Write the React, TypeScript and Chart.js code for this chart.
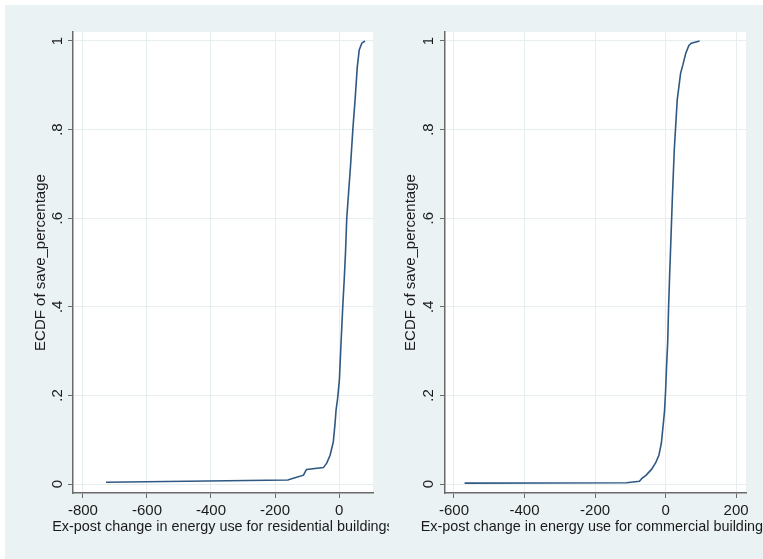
import { useEffect, useRef } from "react";
import { Chart, registerables } from "chart.js";

Chart.register(...registerables);

// Empirical CDF of the savings share, residential buildings
const residentialChange = [
  -728, -160, -143, -111, -104, -101, -49, -38.5, -28, -18, -12.5, -9.4, -5, -2, 1, 5,
  11.5, 16, 20, 24, 29, 36, 43, 50, 57, 63, 71, 81,
];
const residentialEcdf = [
  0.004, 0.009, 0.013, 0.02, 0.03, 0.033, 0.037, 0.047, 0.065, 0.095, 0.137, 0.167, 0.19,
  0.212, 0.235, 0.3, 0.4, 0.46, 0.52, 0.6, 0.65, 0.72, 0.8, 0.867, 0.942, 0.98, 0.995, 1,
];

// Empirical CDF of the savings share, commercial buildings
const commercialChange = [
  -570, -111, -74, -67, -55, -40, -28, -19, -12, -6, -3, 0, 3, 6, 8.5, 11, 15, 19, 24.6,
  33, 42.5, 49, 57, 66, 73, 96.5,
];
const commercialEcdf = [
  0.002, 0.003, 0.006, 0.013, 0.02, 0.033, 0.048, 0.065, 0.092, 0.14, 0.165, 0.21, 0.27,
  0.32, 0.4, 0.46, 0.55, 0.641, 0.754, 0.867, 0.927, 0.946, 0.972, 0.99, 0.995, 1,
];

const ecdfTicks = [0, 0.2, 0.4, 0.6, 0.8, 1];
const residentialTicks = [-800, -600, -400, -200, 0];
const commercialTicks = [-600, -400, -200, 0, 200];

const yAxisTitle = "ECDF of save_percentage";
const residentialTitle = "Ex-post change in energy use for residential buildings";
const commercialTitle = "Ex-post change in energy use for commercial buildings";

const FONT = "'Liberation Sans', Arial, Helvetica, sans-serif";
const REGION = "#eaf2f3";
const GRID = "#e6eef0";
const INK = "#1b1b1b";
const AXIS = "#6b6b6b";
const LINE = "#2f5983";

const fmtProb = (v: number) => (v === 0 ? "0" : v === 1 ? "1" : String(v).replace(/^0/, ""));

// White plot region plus the x-axis title centred under it
const panelPlugin = {
  id: "panelFrame",
  beforeDraw(chart: any) {
    const { ctx, chartArea } = chart;
    ctx.save();
    ctx.fillStyle = "#ffffff";
    ctx.fillRect(chartArea.left, chartArea.top, chartArea.right - chartArea.left, chartArea.bottom - chartArea.top);
    ctx.restore();
  },
  afterDraw(chart: any, _args: any, opts: any) {
    const { ctx, chartArea } = chart;
    ctx.save();
    ctx.font = `14.4px ${FONT}`;
    ctx.fillStyle = INK;
    ctx.textAlign = "center";
    ctx.textBaseline = "middle";
    ctx.fillText(opts.title, (chartArea.left + chartArea.right) / 2, opts.titleY);
    ctx.restore();
  },
};

type PanelProps = {
  xs: number[];
  ys: number[];
  xTicks: number[];
  xMin: number;
  xMax: number;
  xTitle: string;
  width: number;
  axisWidth: number;
  padRight: number;
  yTitlePad: number;
  yTickPad: number;
};

function Panel(p: PanelProps) {
  const ref = useRef<HTMLCanvasElement | null>(null);

  useEffect(() => {
    if (!ref.current) return;
    const points = p.xs.map((x, i) => ({ x, y: p.ys[i] }));
    const chart = new Chart(ref.current, {
      type: "line",
      data: {
        datasets: [
          {
            data: points,
            borderColor: LINE,
            borderWidth: 1.6,
            pointRadius: 0,
            tension: 0,
            fill: false,
          },
        ],
      },
      options: {
        responsive: false,
        animation: false,
        layout: { padding: { top: 27, right: p.padRight, left: 0, bottom: 0 } },
        plugins: {
          legend: { display: false },
          tooltip: { enabled: false },
          panelFrame: { title: p.xTitle, titleY: 522 },
        } as any,
        scales: {
          x: {
            type: "linear",
            min: p.xMin,
            max: p.xMax,
            afterBuildTicks: (s: any) => {
              s.ticks = p.xTicks.map((v) => ({ value: v }));
            },
            afterFit: (s: any) => {
              s.height = 66;
            },
            grid: { color: GRID, lineWidth: 1, tickColor: AXIS, tickLength: 5, tickWidth: 1 },
            border: { color: AXIS, width: 1.5 },
            ticks: {
              color: INK,
              padding: 4,
              maxRotation: 0,
              font: { family: FONT, size: 15 },
              callback: (v: any) => String(v),
            },
          },
          y: {
            type: "linear",
            min: -0.0203,
            max: 1.0203,
            afterBuildTicks: (s: any) => {
              s.ticks = ecdfTicks.map((v) => ({ value: v }));
            },
            afterFit: (s: any) => {
              s.width = p.axisWidth;
            },
            grid: { color: GRID, lineWidth: 1, tickColor: AXIS, tickLength: 5, tickWidth: 1 },
            border: { color: AXIS, width: 1.5 },
            title: {
              display: true,
              text: yAxisTitle,
              color: INK,
              font: { family: FONT, size: 15 },
              padding: { top: p.yTitlePad, bottom: 0 },
            },
            ticks: {
              color: INK,
              padding: p.yTickPad,
              minRotation: 90,
              maxRotation: 90,
              crossAlign: "center",
              font: { family: FONT, size: 15 },
              callback: (v: any) => fmtProb(Number(v)),
            },
          },
        },
      },
      plugins: [panelPlugin as any],
    });
    return () => chart.destroy();
  }, []);

  return <canvas ref={ref} width={p.width} height={554} style={{ display: "block" }} />;
}

export default function App() {
  return (
    <div style={{ position: "fixed", left: 0, top: 0, width: 763, height: 559, background: "#ffffff", overflow: "hidden" }}>
      <div style={{ position: "absolute", left: 5, top: 5, width: 758, height: 554, background: REGION }}>
        <div style={{ position: "absolute", left: 0, top: 0 }}>
          <Panel
            xs={residentialChange}
            ys={residentialEcdf}
            xTicks={residentialTicks}
            xMin={-831}
            xMax={106}
            xTitle={residentialTitle}
            width={384}
            axisWidth={68}
            padRight={16}
            yTitlePad={26.7}
            yTickPad={4}
          />
        </div>
        <div style={{ position: "absolute", left: 384, top: 0 }}>
          <Panel
            xs={commercialChange}
            ys={commercialEcdf}
            xTicks={commercialTicks}
            xMin={-625.5}
            xMax={228}
            xTitle={commercialTitle}
            width={374}
            axisWidth={56}
            padRight={17}
            yTitlePad={12.7}
            yTickPad={5}
          />
        </div>
      </div>
    </div>
  );
}
